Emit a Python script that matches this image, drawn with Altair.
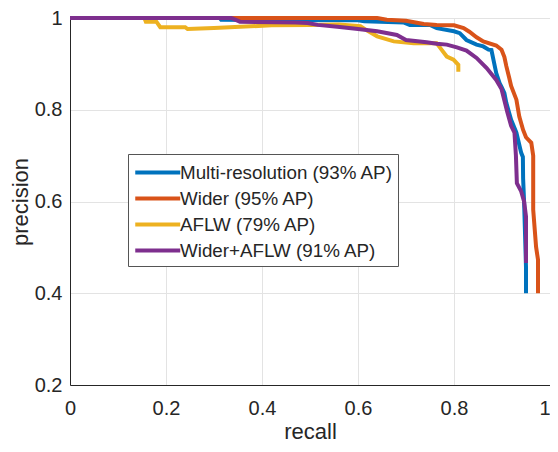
import altair as alt
import pandas as pd

series = ["Multi-resolution (93% AP)", "Wider (95% AP)", "AFLW (79% AP)", "Wider+AFLW (91% AP)"]
colors = ["#0072BD", "#D95319", "#EDB120", "#7E2F8E"]

mr_recall = [0, 0.312, 0.315, 0.60, 0.613, 0.696, 0.708, 0.75, 0.764, 0.80, 0.812, 0.826, 0.847, 0.861,
             0.872, 0.878, 0.882, 0.888, 0.895, 0.899, 0.905, 0.909, 0.915, 0.919, 0.930, 0.940, 0.9435,
             0.944, 0.946, 0.950, 0.950]
mr_precision = [1.0, 1.0, 0.996, 0.995, 0.993, 0.990, 0.985, 0.985, 0.978, 0.971, 0.967, 0.952, 0.942, 0.938,
                0.931, 0.930, 0.910, 0.880, 0.858, 0.850, 0.836, 0.815, 0.793, 0.778, 0.750, 0.706, 0.697,
                0.650, 0.600, 0.457, 0.400]

w_recall = [0, 0.64, 0.66, 0.70, 0.737, 0.764, 0.80, 0.82, 0.832, 0.847, 0.861, 0.888, 0.899, 0.905,
            0.909, 0.915, 0.919, 0.930, 0.936, 0.944, 0.950, 0.961, 0.965, 0.965, 0.971, 0.975, 0.975]
w_precision = [1.0, 1.0, 0.996, 0.994, 0.987, 0.985, 0.984, 0.978, 0.970, 0.958, 0.949, 0.940, 0.931, 0.915,
               0.895, 0.870, 0.852, 0.822, 0.785, 0.756, 0.740, 0.728, 0.700, 0.582, 0.501, 0.473, 0.400]

a_recall = [0, 0.155, 0.158, 0.18, 0.188, 0.24, 0.245, 0.30, 0.42, 0.50, 0.56, 0.605, 0.62, 0.64,
            0.6745, 0.716, 0.764, 0.774, 0.785, 0.799, 0.809, 0.809]
a_precision = [1.0, 1.0, 0.992, 0.992, 0.980, 0.980, 0.976, 0.978, 0.984, 0.985, 0.986, 0.982, 0.972, 0.960,
               0.949, 0.945, 0.945, 0.931, 0.916, 0.909, 0.898, 0.883]

p_recall = [0, 0.336, 0.354, 0.47, 0.495, 0.516, 0.557, 0.60, 0.64, 0.681, 0.70, 0.743, 0.764, 0.785,
            0.806, 0.826, 0.847, 0.868, 0.888, 0.899, 0.905, 0.911, 0.919, 0.926, 0.929, 0.931, 0.940,
            0.946, 0.950, 0.950]
p_precision = [1.0, 1.0, 0.992, 0.990, 0.989, 0.985, 0.981, 0.976, 0.971, 0.963, 0.952, 0.947, 0.944, 0.942,
               0.936, 0.929, 0.913, 0.891, 0.865, 0.845, 0.820, 0.795, 0.765, 0.750, 0.700, 0.640, 0.622,
               0.600, 0.567, 0.466]

x_ticks = [0, 0.2, 0.4, 0.6, 0.8, 1.0]
y_ticks = [0.2, 0.4, 0.6, 0.8, 1.0]

rows = []
for name, rx, py in zip(series, [mr_recall, w_recall, a_recall, p_recall],
                        [mr_precision, w_precision, a_precision, p_precision]):
    for i, (r, p) in enumerate(zip(rx, py)):
        rows.append({"series": name, "recall": r, "precision": p, "i": i})
df = pd.DataFrame(rows)

FONT = "Liberation Sans"
TXT = "#262626"

color = alt.Color(
    "series:N",
    scale=alt.Scale(domain=series, range=colors),
    legend=alt.Legend(
        title=None, orient="none", legendX=58, legendY=136,
        fillColor="white", strokeColor="#555555", padding=5, offset=0,
        symbolType="M-1,0H3", symbolSize=506, symbolStrokeWidth=4,
        labelFont=FONT, labelFontSize=18.8, labelColor=TXT, labelOffset=20,
        labelLimit=400, rowPadding=2,
    ),
)

x = alt.X("recall:Q", scale=alt.Scale(domain=[0, 1], nice=False),
          axis=alt.Axis(values=x_ticks, format="~g", title="recall",
                        labelAlign={"condition": {"test": "datum.value == 1", "value": "right"},
                                    "value": "center"}))
y = alt.Y("precision:Q", scale=alt.Scale(domain=[0.2, 1], nice=False, zero=False),
          axis=alt.Axis(values=y_ticks, format="~g", title="precision"))

layers = []
for s in series:
    layers.append(
        alt.Chart(df).transform_filter(alt.datum.series == s)
        .mark_line(strokeWidth=4)
        .encode(x=x, y=y, color=color, order=alt.Order("i:Q"))
    )

chart = (
    alt.layer(*layers)
    .properties(width=480, height=367,
                padding={"left": 62, "top": 10, "right": 0, "bottom": 59},
                autosize=alt.AutoSizeParams(type="none"))
    .configure_view(strokeWidth=0)
    .configure_axis(
        labelFont=FONT, labelFontSize=20, labelColor=TXT,
        titleFont=FONT, titleFontSize=22, titleColor=TXT, titleFontWeight="normal",
        domainColor=TXT, domainWidth=1, ticks=False, tickSize=0,
        gridColor="#e3e3e3", gridWidth=1,
    )
    .configure_axisX(labelPadding=13, titlePadding=3)
    .configure_axisY(labelPadding=8, titlePadding=2)
)

chart.save("out.html", embed_options={"renderer": "svg", "actions": False})
